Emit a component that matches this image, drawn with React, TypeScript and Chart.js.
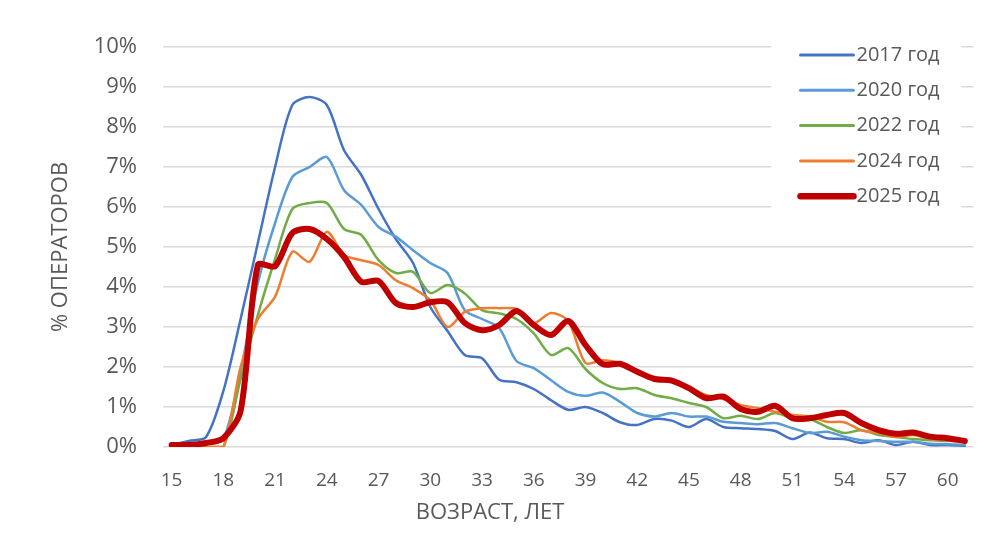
import React, { useEffect, useRef } from 'react';
import { Chart, registerables } from 'chart.js';

Chart.register(...registerables);

const ages = [15, 16, 17, 18, 19, 20, 21, 22, 23, 24, 25, 26, 27, 28, 29, 30, 31, 32, 33, 34, 35, 36, 37, 38, 39, 40, 41, 42, 43, 44, 45, 46, 47, 48, 49, 50, 51, 52, 53, 54, 55, 56, 57, 58, 59, 60, 61];

const xTickLabels = [15, 18, 21, 24, 27, 30, 33, 36, 39, 42, 45, 48, 51, 54, 57, 60];

const yTicks = [0, 1, 2, 3, 4, 5, 6, 7, 8, 9, 10];

const seriesLabels = ['2017 год', '2020 год', '2022 год', '2024 год', '2025 год'];

const y2017 = [0.05, 0.15, 0.25, 1.4, 3.2, 5.1, 7.0, 8.55, 8.75, 8.55, 7.42, 6.8, 5.95, 5.2, 4.6, 3.5, 2.9, 2.3, 2.22, 1.68, 1.62, 1.45, 1.17, 0.93, 1.0, 0.85, 0.62, 0.55, 0.7, 0.66, 0.5, 0.7, 0.5, 0.47, 0.45, 0.4, 0.2, 0.36, 0.22, 0.2, 0.1, 0.17, 0.05, 0.13, 0.05, 0.05, 0.03];

const y2020 = [0.0, 0.05, 0.1, 0.2, 1.9, 4.1, 5.6, 6.75, 7.0, 7.25, 6.42, 6.05, 5.5, 5.26, 4.92, 4.6, 4.35, 3.42, 3.2, 2.97, 2.15, 1.97, 1.67, 1.38, 1.28, 1.36, 1.13, 0.85, 0.76, 0.85, 0.76, 0.76, 0.63, 0.6, 0.57, 0.6, 0.47, 0.35, 0.38, 0.26, 0.17, 0.15, 0.13, 0.13, 0.08, 0.07, 0.05];

const y2022 = [0, 0, 0, 0, 1.7, 3.3, 4.7, 5.95, 6.1, 6.1, 5.45, 5.3, 4.67, 4.35, 4.38, 3.85, 4.05, 3.84, 3.42, 3.34, 3.2, 2.84, 2.3, 2.47, 1.95, 1.6, 1.45, 1.47, 1.3, 1.22, 1.1, 1.0, 0.72, 0.78, 0.7, 0.85, 0.72, 0.7, 0.5, 0.35, 0.42, 0.3, 0.25, 0.2, 0.17, 0.15, 0.15];

const y2024 = [0, 0, 0, 0, 2.0, 3.2, 3.76, 4.88, 4.63, 5.38, 4.8, 4.67, 4.55, 4.17, 3.97, 3.67, 3.0, 3.38, 3.47, 3.47, 3.45, 3.1, 3.35, 3.15, 2.1, 2.17, 2.1, 1.92, 1.75, 1.68, 1.5, 1.3, 1.2, 1.05, 0.97, 0.88, 0.8, 0.76, 0.63, 0.62, 0.42, 0.35, 0.25, 0.3, 0.2, 0.17, 0.15];

const y2025 = [0.05, 0.05, 0.1, 0.22, 0.9, 4.55, 4.52, 5.35, 5.45, 5.2, 4.75, 4.13, 4.15, 3.6, 3.5, 3.62, 3.62, 3.1, 2.92, 3.05, 3.4, 3.05, 2.8, 3.15, 2.55, 2.07, 2.08, 1.88, 1.7, 1.66, 1.47, 1.22, 1.26, 0.95, 0.88, 1.03, 0.72, 0.72, 0.8, 0.85, 0.6, 0.42, 0.33, 0.36, 0.26, 0.22, 0.15];

const seriesColors = ['#4472C4', '#5B9BD5', '#70AD47', '#ED7D31', '#C00000'];
const seriesWidths = [2.5, 2.5, 2.5, 2.5, 6];

const FONT = "'Open Sans', 'Noto Sans', sans-serif";
const TEXT = '#595959';

export default function App() {
  const ref = useRef<HTMLCanvasElement>(null);

  useEffect(() => {
    const canvas = ref.current;
    if (!canvas) return;

    const legendPlugin = {
      id: 'insideLegend',
      afterDraw(chart: any) {
        const c = chart.ctx;
        const area = chart.chartArea;
        c.save();
        const bx = area.right - 202;
        c.fillStyle = '#ffffff';
        c.fillRect(bx, area.top - 12, 190, 180);
        chart.data.datasets.forEach((ds: any, i: number) => {
          const y = area.top + 8 + i * 35.3;
          c.beginPath();
          c.strokeStyle = ds.borderColor;
          c.lineWidth = ds.borderWidth + 0.5;
          c.lineCap = 'round';
          c.moveTo(bx + 29, y);
          c.lineTo(bx + 82, y);
          c.stroke();
          c.fillStyle = TEXT;
          c.font = `20px ${FONT}`;
          c.textAlign = 'left';
          c.textBaseline = 'middle';
          c.fillText(ds.label, bx + 85, y);
        });
        // x axis title
        c.fillStyle = TEXT;
        c.font = `22px ${FONT}`;
        c.textAlign = 'center';
        c.textBaseline = 'middle';
        c.fillText('ВОЗРАСТ, ЛЕТ', 490, 513);
        c.restore();
      },
    };

    const values = [y2017, y2020, y2022, y2024, y2025];

    const chart = new Chart(canvas, {
      type: 'line',
      data: {
        labels: ages.map(String),
        datasets: values.map((v, i) => ({
          label: seriesLabels[i],
          data: v,
          borderColor: seriesColors[i],
          backgroundColor: seriesColors[i],
          borderWidth: seriesWidths[i],
          pointRadius: 0,
          tension: 0.28,
          fill: false,
          order: values.length - 1 - i,
          borderCapStyle: 'round',
          borderJoinStyle: 'round',
        })),
      },
      options: {
        responsive: false,
        animation: false,
        layout: { padding: { left: 0, right: 12, top: 47, bottom: 0 } },
        plugins: {
          legend: { display: false },
          tooltip: { enabled: false },
          title: { display: false },
        },
        scales: {
          x: {
            offset: true,
            grid: { display: false, drawTicks: false },
            border: { display: false },
            afterFit: (s: any) => { s.height = 88; },
            ticks: {
              autoSkip: false,
              maxRotation: 0,
              minRotation: 0,
              padding: 22,
              color: TEXT,
              font: { family: FONT, size: 19 },
              callback: (_v: any, idx: number) =>
                xTickLabels.includes(ages[idx]) ? String(ages[idx]) : '',
            },
          },
          y: {
            min: 0,
            max: 10,
            afterFit: (s: any) => { s.width = 163; },
            afterBuildTicks: (s: any) => { s.ticks = yTicks.map((v) => ({ value: v })); },
            grid: { color: '#D9D9D9', lineWidth: 1.5, drawTicks: false },
            border: { display: false },
            ticks: {
              padding: 26,
              color: TEXT,
              font: { family: FONT, size: 22 },
              callback: (v: any) => `${v}%`,
            },
            title: {
              display: true,
              text: '% ОПЕРАТОРОВ',
              color: TEXT,
              font: { family: FONT, size: 22 },
              padding: { top: 48, bottom: 0 },
            },
          },
        },
      },
      plugins: [legendPlugin],
    });

    return () => chart.destroy();
  }, []);

  return (
    <div style={{ position: 'fixed', left: 0, top: 0, width: 987, height: 535, background: '#ffffff' }}>
      <canvas ref={ref} width={987} height={535} style={{ width: 987, height: 535, display: 'block' }} />
    </div>
  );
}
